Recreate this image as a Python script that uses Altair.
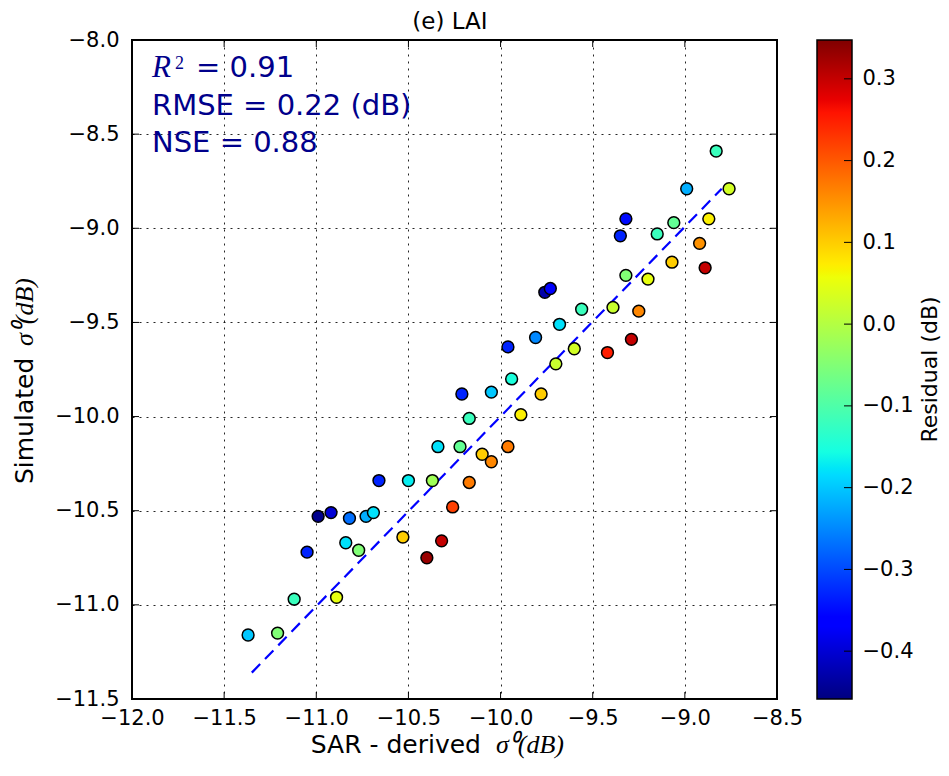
import altair as alt
import pandas as pd

# ---- data ----
sar = [-11.37, -11.21, -11.12, -11.05, -10.99, -10.92, -10.89, -10.82, -10.84, -10.77,
       -10.73, -10.69, -10.66, -10.50, -10.37, -10.53, -10.40, -10.32, -10.26, -10.17,
       -10.34, -10.22, -10.10, -10.05, -9.96, -10.17, -10.21, -10.05, -9.89, -9.78,
       -9.94, -9.96, -9.81, -9.70, -9.68, -9.60, -9.56, -9.76, -9.73, -9.42,
       -9.29, -9.32, -9.20, -9.39, -9.25, -9.07, -8.83, -8.99, -8.76, -9.32,
       -9.35, -9.15, -9.06, -8.87, -8.92, -8.89]
sim = [-11.16, -11.15, -10.97, -10.72, -10.53, -10.51, -10.96, -10.54, -10.67, -10.71,
       -10.53, -10.51, -10.34, -10.34, -10.34, -10.64, -10.75, -10.66, -10.48, -10.35,
       -10.16, -10.16, -10.20, -10.24, -10.16, -10.01, -9.88, -9.87, -9.99, -9.88,
       -9.80, -9.63, -9.58, -9.72, -9.51, -9.64, -9.43, -9.34, -9.32, -9.66,
       -9.59, -9.25, -9.27, -9.42, -9.44, -9.18, -8.59, -8.79, -8.79, -8.95,
       -9.04, -9.03, -8.97, -8.95, -9.08, -9.21]
res = [-0.20, -0.05, -0.12, -0.33, -0.45, -0.40, 0.05, -0.27, -0.18, -0.05,
       -0.22, -0.18, -0.33, -0.17, -0.02, 0.10, 0.33, 0.30, 0.22, 0.17,
       -0.18, -0.08, 0.10, 0.16, 0.17, -0.12, -0.33, -0.20, 0.07, 0.10,
       -0.15, -0.33, -0.25, 0.02, -0.18, 0.03, -0.12, -0.43, -0.37, 0.25,
       0.30, -0.05, 0.05, 0.02, 0.16, 0.10, -0.12, -0.22, 0.03, -0.35,
       -0.33, -0.12, -0.08, 0.07, 0.15, 0.30]

fit_x = [-11.35, -8.80]
fit_y = [-11.36, -8.79]

x_ticks = [-12.0, -11.5, -11.0, -10.5, -10.0, -9.5, -9.0, -8.5]
y_ticks = [-11.5, -11.0, -10.5, -10.0, -9.5, -9.0, -8.5, -8.0]
cb_ticks = [-0.4, -0.3, -0.2, -0.1, 0.0, 0.1, 0.2, 0.3]
cb_domain = [-0.4585, 0.3475]

# jet colormap stops
jet_pos = [0.0, 0.11, 0.125, 0.34, 0.35, 0.375, 0.64, 0.65, 0.66, 0.89, 0.91, 1.0]
jet_colors = ["#000080", "#0000ff", "#0000ff", "#00dbff", "#00e6f7", "#15ffe2",
              "#eeff08", "#f7f500", "#ffec00", "#ff1300", "#e80000", "#800000"]

title_text = "(e) LAI"
x_title = "SAR - derived"
y_title = "Simulated"
math_title = "σ⁰(dB)"
cb_title = "Residual (dB)"
ann_sym = "R"
ann_sup = "2"
ann_lines = ["= 0.91", "RMSE = 0.22 (dB)", "NSE = 0.88"]

# ---- layout ----
W, H = 645, 659
SANS = "DejaVu Sans"
SERIF = "Liberation Serif"
NAVY = "#00008B"

df = pd.DataFrame({"sar": sar, "sim": sim, "res": res})
fit_df = pd.DataFrame({"x": fit_x, "y": fit_y})
xt_df = pd.DataFrame({"v": x_ticks})
yt_df = pd.DataFrame({"v": y_ticks})
cbt_df = pd.DataFrame({"v": cb_ticks})
cb_df = pd.DataFrame({"lo": [cb_domain[0]], "hi": [cb_domain[1]]})

lo, hi = cb_domain
color_scale = alt.Scale(domain=[lo + p * (hi - lo) for p in jet_pos],
                        range=jet_colors, interpolate="rgb")

xscale = alt.Scale(domain=[x_ticks[0], x_ticks[-1]], nice=False, zero=False)
yscale = alt.Scale(domain=[y_ticks[0], y_ticks[-1]], nice=False, zero=False)
xaxis = alt.Axis(title=None, values=x_ticks, format=".1f", labelPadding=8,
                 labelFlush=False, labelOverlap=False)
yaxis = alt.Axis(title=None, values=y_ticks, format=".1f", labelPadding=13,
                 labelFlush=False, labelOverlap=False)

X = lambda f: alt.X(f, scale=xscale, axis=xaxis)
Y = lambda f: alt.Y(f, scale=yscale, axis=yaxis)

fit = alt.Chart(fit_df).mark_line(color="#0000ff", strokeWidth=2.2, strokeDash=[12, 7]).encode(
    x=X("x:Q"), y=Y("y:Q"))

pts = alt.Chart(df).mark_point(filled=True, shape="circle", size=140, opacity=1,
                               stroke="black", strokeWidth=1.5).encode(
    x=X("sar:Q"), y=Y("sim:Q"),
    fill=alt.Fill("res:Q", scale=color_scale, legend=None))

TL = 7
tick_bottom = alt.Chart(xt_df).mark_rule(color="black", strokeWidth=1).encode(
    x=X("v:Q"), y=alt.value(H), y2=alt.value(H - TL))
tick_top = alt.Chart(xt_df).mark_rule(color="black", strokeWidth=1).encode(
    x=X("v:Q"), y=alt.value(0), y2=alt.value(TL))
tick_left = alt.Chart(yt_df).mark_rule(color="black", strokeWidth=1).encode(
    y=Y("v:Q"), x=alt.value(0), x2=alt.value(TL))
tick_right = alt.Chart(yt_df).mark_rule(color="black", strokeWidth=1).encode(
    y=Y("v:Q"), x=alt.value(W), x2=alt.value(W - TL))


def txt(s, x, y, size, font=SANS, color="black", align="left", angle=0, style="normal"):
    kw = dict(align=align, baseline="alphabetic", fontSize=size, font=font,
              color=color, fontStyle=style)
    if angle:
        kw["angle"] = angle
    return alt.Chart(pd.DataFrame({"t": [s]})).mark_text(**kw).encode(
        text="t:N", x=alt.value(x), y=alt.value(y))


texts = [
    txt(title_text, 318, -11, 23, align="center"),
    txt(ann_sym, 20, 37, 31, font=SERIF, color=NAVY, style="italic"),
    txt(ann_sup, 43, 29, 18, font=SERIF, color=NAVY),
    txt(ann_lines[0], 64, 37, 29, color=NAVY),
    txt(ann_lines[1], 20, 75, 29, color=NAVY),
    txt(ann_lines[2], 20, 112, 29, color=NAVY),
    txt(x_title, 349, H + 54, 25, align="right"),
    txt(math_title, 364, H + 54, 26, font=SERIF, style="italic"),
    txt(y_title, -99, 444, 25, angle=270),
    txt(math_title, -99, 306, 26, font=SERIF, style="italic", angle=270),
    txt(cb_title, 805, H / 2, 22, align="center", angle=270),
]

main = alt.layer(fit, pts, tick_bottom, tick_top, tick_left, tick_right, *texts)

# ---- colorbar ----
CB0, CB1 = W + 40, W + 75
cbscale = alt.Scale(domain=cb_domain, nice=False, zero=False)
cbaxis = alt.Axis(title=None, orient="right", offset=75, values=cb_ticks, format=".1f",
                  labelPadding=10, grid=False, domain=False, ticks=False,
                  labelFlush=False, labelOverlap=False)
gradient = {"gradient": "linear", "x1": 0, "y1": 1, "x2": 0, "y2": 0,
            "stops": [{"offset": p, "color": c} for p, c in zip(jet_pos, jet_colors)]}
cbar = alt.Chart(cb_df).mark_rect(fill=gradient, stroke="black", strokeWidth=1.5).encode(
    y=alt.Y("lo:Q", scale=cbscale, axis=cbaxis), y2="hi:Q",
    x=alt.value(CB0), x2=alt.value(CB1))
cbar_ticks = alt.Chart(cbt_df).mark_rule(color="black", strokeWidth=1).encode(
    y=alt.Y("v:Q", scale=cbscale, axis=cbaxis), x=alt.value(CB1 - 8), x2=alt.value(CB1))
cb = alt.layer(cbar, cbar_ticks)

chart = alt.layer(main, cb).resolve_scale(y="independent").properties(
    width=W, height=H,
    padding={"left": 124, "top": 32, "right": 164, "bottom": 62},
    autosize=alt.AutoSizeParams(type="none"),
).configure_view(stroke="black", strokeWidth=2).configure_axis(
    labelFont=SANS, labelFontSize=21, labelColor="black",
    ticks=False, domain=False, grid=True, gridColor="black",
    gridDash=[2, 5], gridWidth=1, gridOpacity=0.85,
)

chart.save("out.html", embed_options={"renderer": "svg", "actions": False})
